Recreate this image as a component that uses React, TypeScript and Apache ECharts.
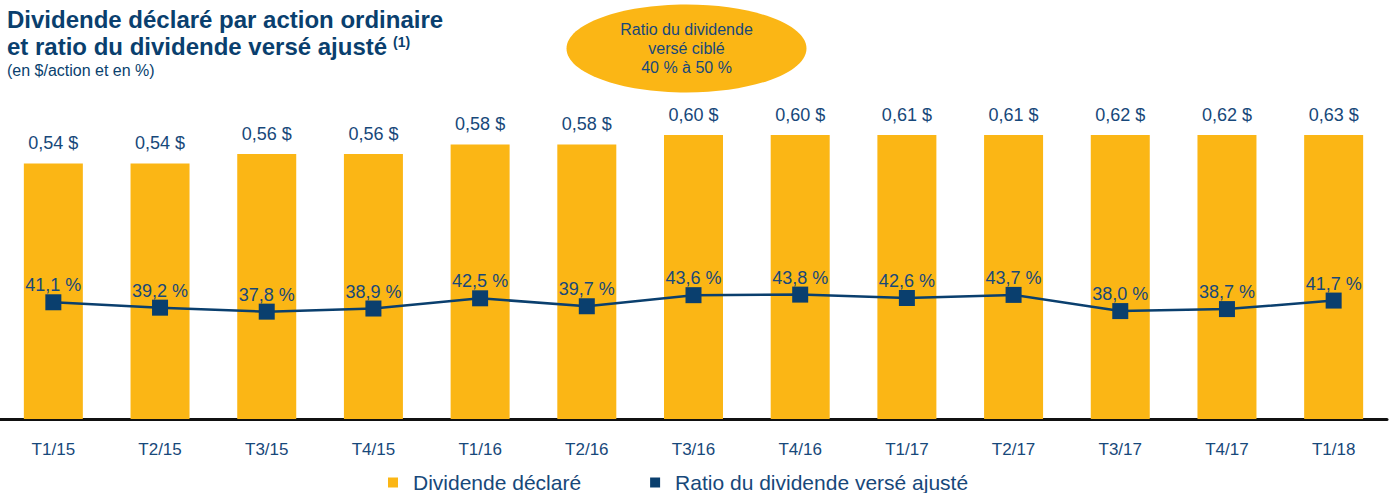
import React, { useEffect, useRef } from "react";
import * as echarts from "echarts";

const categories = ["T1/15", "T2/15", "T3/15", "T4/15", "T1/16", "T2/16", "T3/16", "T4/16", "T1/17", "T2/17", "T3/17", "T4/17", "T1/18"];
const dividende = [0.54, 0.54, 0.56, 0.56, 0.58, 0.58, 0.6, 0.6, 0.61, 0.61, 0.62, 0.62, 0.63];
const ratio = [41.1, 39.2, 37.8, 38.9, 42.5, 39.7, 43.6, 43.8, 42.6, 43.7, 38.0, 38.7, 41.7];
const titleLines = ["Dividende déclaré par action ordinaire", "et ratio du dividende versé ajusté"];
const subtitle = "(en $/action et en %)";
const ellipseText = "Ratio du dividende\nversé ciblé\n40 % à 50 %";

const ORANGE = "#FBB615";
const BLUE = "#0A3F6E";
const LBLUE = "#17487A";
const FONT = "'Liberation Sans', Arial, sans-serif";

export default function App() {
  const ref = useRef<HTMLDivElement>(null);
  useEffect(() => {
    if (!ref.current) return;
    const chart = echarts.init(ref.current, undefined, { renderer: "svg" });
    chart.setOption({
      animation: false,
      textStyle: { fontFamily: FONT },
      grid: { left: 0, right: 10, top: 135, bottom: 74, containLabel: false },
      legend: {
        left: 383,
        top: 467,
        itemWidth: 10,
        itemHeight: 10,
        itemGap: 69,
        textStyle: { fontSize: 21, color: LBLUE, fontFamily: FONT, padding: [0, 0, 0, 10] },
        data: [
          { name: "Dividende déclaré", icon: "rect" },
          { name: "Ratio du dividende versé ajusté", icon: "rect" },
        ],
      },
      xAxis: {
        type: "category",
        data: categories,
        axisLine: { lineStyle: { color: "#111", width: 3 } },
        axisTick: { show: false },
        axisLabel: { color: LBLUE, fontSize: 17, margin: 22, fontFamily: FONT },
      },
      yAxis: [
        { type: "value", min: 0, max: 0.6, show: false, splitLine: { show: false } },
        { type: "value", min: 0, max: 100, show: false, splitLine: { show: false } },
      ],
      graphic: [
        {
          type: "text",
          left: 7,
          top: 7,
          style: { text: titleLines[0], font: `bold 24px ${FONT}`, fill: BLUE },
        },
        {
          type: "text",
          left: 7,
          top: 34,
          style: { text: titleLines[1], font: `bold 24px ${FONT}`, fill: BLUE },
        },
        {
          type: "text",
          left: 393,
          top: 35,
          style: { text: "(1)", font: `bold 14px ${FONT}`, fill: BLUE },
        },
        {
          type: "text",
          left: 7,
          top: 62,
          style: { text: subtitle, font: `16px ${FONT}`, fill: BLUE },
        },
        {
          type: "ellipse",
          shape: { cx: 686.5, cy: 48.5, rx: 120, ry: 44 },
          style: { fill: ORANGE },
        },
        {
          type: "text",
          x: 686.5,
          y: 48,
          style: {
            text: ellipseText,
            font: `16px ${FONT}`,
            fill: LBLUE,
            align: "center",
            verticalAlign: "middle",
            lineHeight: 19,
          },
        },
      ],
      series: [
        {
          name: "Dividende déclaré",
          type: "bar",
          data: dividende,
          barWidth: 59,
          itemStyle: { color: ORANGE },
          label: {
            show: true,
            position: "top",
            distance: 11,
            fontSize: 18,
            color: LBLUE,
            fontFamily: FONT,
            formatter: (p: any) => p.value.toFixed(2).replace(".", ",") + " $",
          },
        },
        {
          name: "Ratio du dividende versé ajusté",
          type: "line",
          yAxisIndex: 1,
          data: ratio,
          symbol: "rect",
          symbolSize: 16,
          itemStyle: { color: BLUE },
          lineStyle: { color: BLUE, width: 2.5 },
          label: {
            show: true,
            position: "top",
            distance: 0,
            fontSize: 18,
            color: LBLUE,
            fontFamily: FONT,
            formatter: (p: any) => p.value.toFixed(1).replace(".", ",") + " %",
          },
        },
      ],
    });
    return () => chart.dispose();
  }, []);
  return <div ref={ref} style={{ position: "absolute", left: 0, top: 0, width: 1397, height: 493 }} />;
}
